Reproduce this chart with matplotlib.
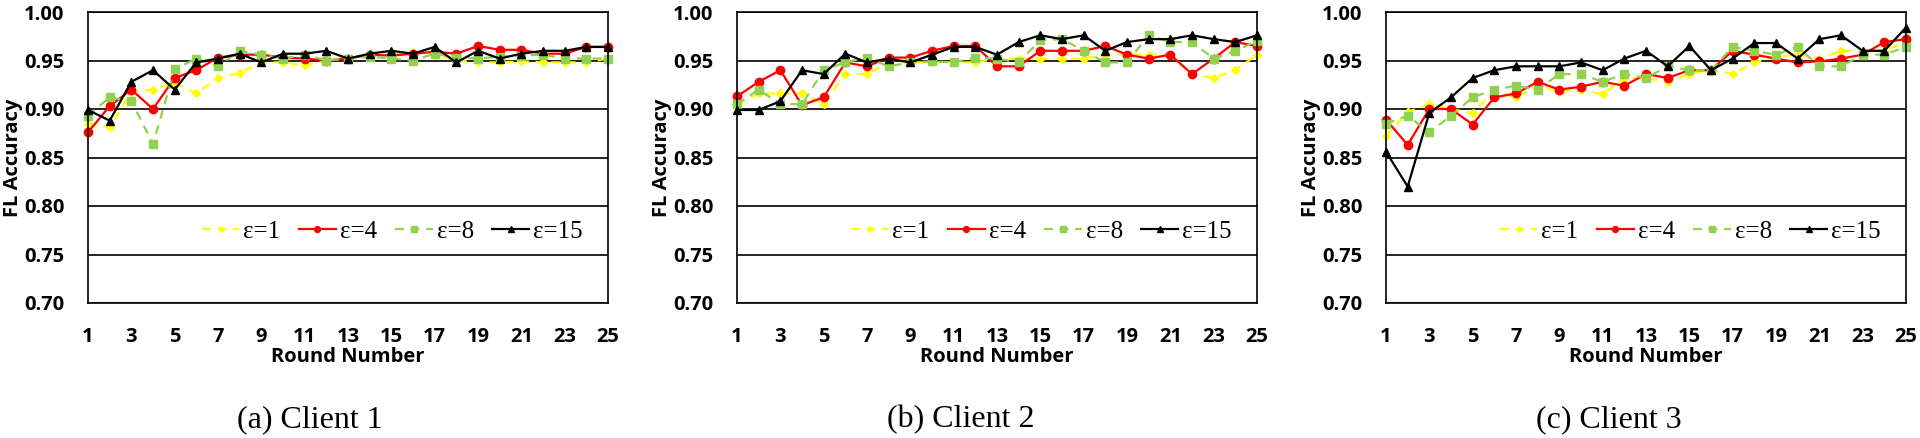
import matplotlib.pyplot as plt

rounds = list(range(1, 26))
eps_labels = ["ε=1", "ε=4", "ε=8", "ε=15"]
captions = ["(a) Client 1", "(b) Client 2", "(c) Client 3"]

# client 1
c1_eps1 = [0.885, 0.881, 0.918, 0.920, 0.927, 0.916, 0.932, 0.937, 0.948, 0.948,
           0.945, 0.950, 0.953, 0.955, 0.956, 0.959, 0.956, 0.950, 0.948, 0.948,
           0.949, 0.948, 0.948, 0.948, 0.952]
c1_eps4 = [0.876, 0.903, 0.920, 0.900, 0.932, 0.940, 0.953, 0.956, 0.956, 0.953,
           0.952, 0.950, 0.952, 0.956, 0.955, 0.957, 0.959, 0.957, 0.965, 0.961,
           0.961, 0.957, 0.957, 0.964, 0.964]
c1_eps8 = [0.893, 0.912, 0.908, 0.864, 0.941, 0.952, 0.944, 0.960, 0.956, 0.952,
           0.956, 0.950, 0.952, 0.954, 0.952, 0.950, 0.957, 0.953, 0.952, 0.954,
           0.955, 0.956, 0.952, 0.952, 0.952]
c1_eps15 = [0.899, 0.888, 0.928, 0.940, 0.920, 0.948, 0.952, 0.957, 0.948, 0.957,
            0.957, 0.960, 0.952, 0.957, 0.960, 0.957, 0.964, 0.948, 0.960, 0.952,
            0.957, 0.960, 0.960, 0.964, 0.964]

# client 2
c2_eps1 = [0.905, 0.916, 0.916, 0.916, 0.905, 0.936, 0.936, 0.948, 0.948, 0.948,
           0.948, 0.948, 0.952, 0.952, 0.952, 0.952, 0.952, 0.956, 0.956, 0.956,
           0.956, 0.936, 0.932, 0.940, 0.956]
c2_eps4 = [0.913, 0.928, 0.940, 0.904, 0.912, 0.948, 0.944, 0.953, 0.953, 0.960,
           0.965, 0.965, 0.944, 0.944, 0.960, 0.960, 0.960, 0.965, 0.956, 0.952,
           0.956, 0.936, 0.952, 0.969, 0.965]
c2_eps8 = [0.905, 0.920, 0.905, 0.905, 0.940, 0.948, 0.953, 0.944, 0.948, 0.949,
           0.948, 0.953, 0.952, 0.948, 0.971, 0.972, 0.960, 0.948, 0.948, 0.976,
           0.969, 0.969, 0.952, 0.960, 0.970]
c2_eps15 = [0.899, 0.899, 0.908, 0.940, 0.936, 0.957, 0.948, 0.952, 0.948, 0.956,
            0.964, 0.964, 0.956, 0.969, 0.976, 0.972, 0.976, 0.960, 0.969, 0.972,
            0.972, 0.976, 0.972, 0.969, 0.976]

# client 3
c3_eps1 = [0.872, 0.897, 0.905, 0.900, 0.896, 0.918, 0.912, 0.924, 0.918, 0.920,
           0.915, 0.932, 0.932, 0.928, 0.936, 0.940, 0.936, 0.948, 0.954, 0.956,
           0.952, 0.960, 0.960, 0.960, 0.969]
c3_eps4 = [0.889, 0.863, 0.900, 0.900, 0.884, 0.912, 0.916, 0.928, 0.920, 0.923,
           0.928, 0.924, 0.936, 0.932, 0.940, 0.940, 0.960, 0.956, 0.952, 0.948,
           0.949, 0.952, 0.956, 0.969, 0.972]
c3_eps8 = [0.885, 0.893, 0.876, 0.893, 0.912, 0.920, 0.924, 0.920, 0.936, 0.936,
           0.928, 0.936, 0.932, 0.944, 0.940, 0.940, 0.964, 0.960, 0.956, 0.964,
           0.944, 0.944, 0.956, 0.956, 0.964]
c3_eps15 = [0.856, 0.820, 0.896, 0.912, 0.932, 0.940, 0.944, 0.944, 0.944, 0.948,
            0.940, 0.952, 0.960, 0.944, 0.965, 0.940, 0.952, 0.968, 0.968, 0.952,
            0.972, 0.976, 0.960, 0.960, 0.984]

clients = [
    [c1_eps1, c1_eps4, c1_eps8, c1_eps15],
    [c2_eps1, c2_eps4, c2_eps8, c2_eps15],
    [c3_eps1, c3_eps4, c3_eps8, c3_eps15],
]

colors = ["#FFFF00", "#FF0000", "#92D050", "#000000"]
styles = ["--", "-", "--", "-"]
markers = ["D", "o", "s", "^"]
msizes = [4, 6, 6, 6]

sans = ["Open Sans", "DejaVu Sans"]
serif = ["Liberation Serif", "DejaVu Serif"]

fig = plt.figure(figsize=(19.2, 4.38), dpi=100)
lefts = [88, 737, 1386]
for i, series in enumerate(clients):
    ax = fig.add_axes([lefts[i] / 1920, 1 - 303 / 438, 520 / 1920, 291 / 438])
    for s, lab, c, ls, m, ms in zip(series, eps_labels, colors, styles, markers, msizes):
        ax.plot(rounds, s, color=c, linestyle=ls, marker=m, markersize=ms,
                linewidth=1.6, label=lab, dashes=(4, 3) if ls == "--" else (None, None),
                clip_on=False)
    ax.set_xlim(1, 25)
    ax.set_ylim(0.70, 1.00)
    ax.set_xticks(range(1, 26, 2))
    ax.set_yticks([0.70, 0.75, 0.80, 0.85, 0.90, 0.95, 1.00])
    ax.set_yticklabels(["%.2f" % v for v in ax.get_yticks()])
    ax.yaxis.grid(True, color="black", linewidth=1.2)
    ax.set_axisbelow(True)
    for sp in ax.spines.values():
        sp.set_color("black")
        sp.set_linewidth(1.2)
    ax.tick_params(axis="x", length=0, pad=17, labelsize=14.5)
    ax.tick_params(axis="y", length=0, pad=17, labelsize=14.5)
    for t in ax.get_xticklabels() + ax.get_yticklabels():
        t.set_fontfamily(sans)
        t.set_fontweight("bold")
    ax.set_xlabel("Round Number", fontsize=14.5, fontweight="bold", family=sans, labelpad=0)
    ax.set_ylabel("FL Accuracy", fontsize=14.5, fontweight="bold", family=sans, labelpad=1)
    ax.legend(loc="center right", bbox_to_anchor=(0.971, 0.244), ncol=4, frameon=False,
              prop={"family": serif, "size": 18}, handlelength=1.5, handletextpad=0.16,
              columnspacing=0.72, markerscale=0.7, borderaxespad=0)
    cx = [310, 961, 1609][i] / 1920
    fig.text(cx, 1 - 420 / 438, captions[i], ha="center", va="center",
             fontsize=23, family=serif)

fig.savefig("out.png", dpi=100)
